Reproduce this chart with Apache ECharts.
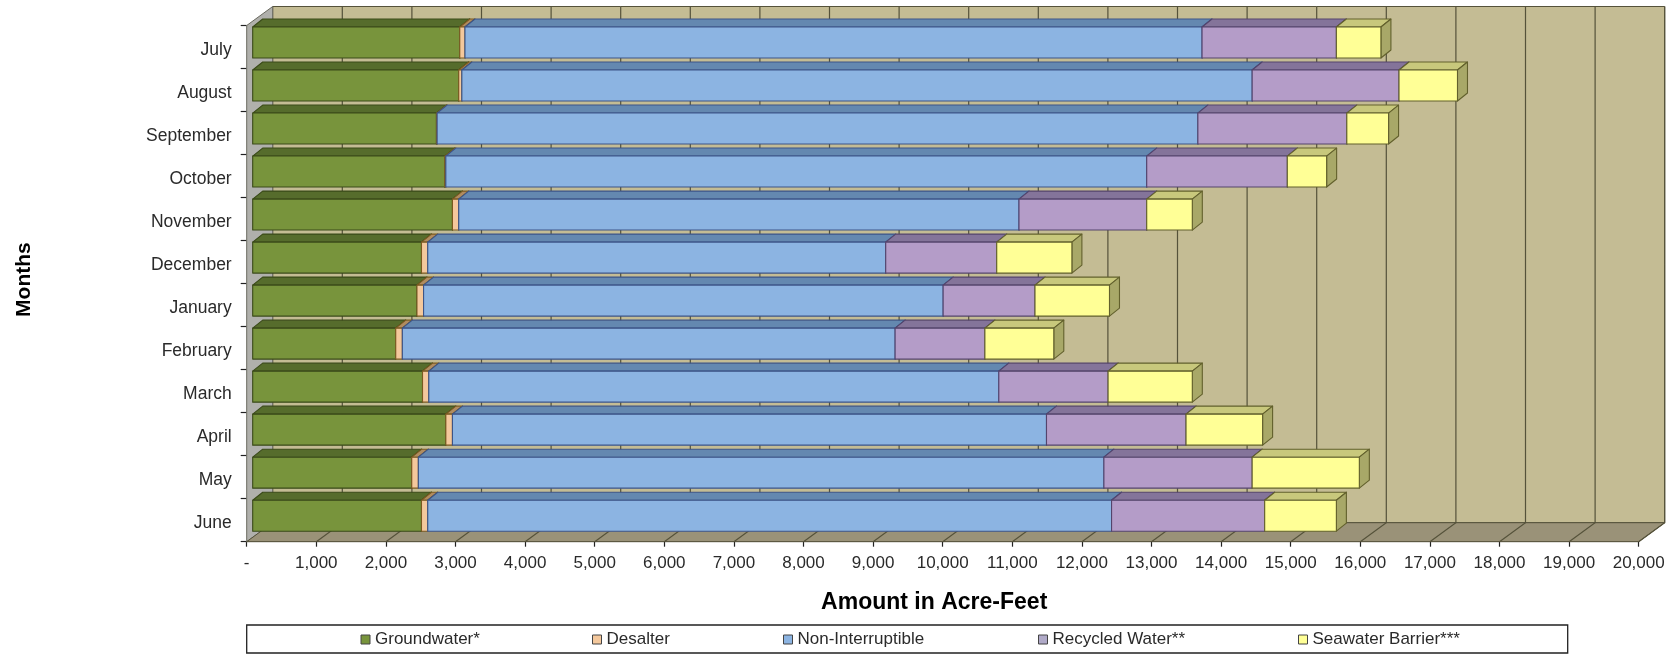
<!DOCTYPE html>
<html><head><meta charset="utf-8">
<style>html,body{margin:0;padding:0;background:#fff}#c{width:1670px;height:654px}</style>
<script src="https://cdn.jsdelivr.net/npm/echarts@6/dist/echarts.min.js"></script>
</head><body><div id="c"></div>
<script>
const months=['July','August','September','October','November','December','January','February','March','April','May','June'];
const groundwater=[2975,2960,2640,2760,2870,2425,2360,2055,2440,2775,2285,2425];
const desalter=[75,45,10,15,90,90,95,95,90,95,95,90];
const nonInterruptible=[10590,11355,10930,10070,8050,6580,7465,7080,8190,8535,9850,9825];
const recycled=[1930,2110,2140,2020,1835,1595,1320,1290,1570,2005,2130,2200];
const seawater=[640,840,600,565,655,1080,1070,990,1210,1100,1540,1030];
const xTicks=[];for(let t=0;t<=20000;t+=1000)xTicks.push(t);

const seriesDefs=[
 {name:'Groundwater*',values:groundwater,front:'#78943c',top:'#566c2c',side:'#4f6428',line:'#3a4a18',leg:'#78943c',lx:360.5},
 {name:'Desalter',values:desalter,front:'#f4c89c',top:'#b08c60',side:'#a88860',line:'#7a5a20',leg:'#f4c89c',lx:592},
 {name:'Non-Interruptible',values:nonInterruptible,front:'#8cb4e2',top:'#6488b0',side:'#6488b0',line:'#3c5488',leg:'#8cb4e2',lx:783},
 {name:'Recycled Water**',values:recycled,front:'#b49cc8',top:'#84749a',side:'#84749a',line:'#54446c',leg:'#b0aac8',lx:1038},
 {name:'Seawater Barrier***',values:seawater,front:'#ffff96',top:'#c8c87c',side:'#a8a868',line:'#62602c',leg:'#ffff96',lx:1298}
];
const WALL={dx:26,dy:19};
const BAR={ox:6,oy:-4.5,dx:10,dy:8,frac:0.72};
const font='"Liberation Sans",Arial,sans-serif';

function wallItem(params,api){
 const cs=params.coordSys,x0=cs.x,x1=cs.x+cs.width,y0=cs.y,y1=cs.y+cs.height,d=WALL;
 const stroke='#55523a';
 return {type:'group',children:[
  {type:'polygon',shape:{points:[[x0+d.dx,y0-d.dy],[x1+d.dx,y0-d.dy],[x1+d.dx,y1-d.dy],[x0+d.dx,y1-d.dy]]},style:{fill:'#c4bc94',stroke:stroke,lineWidth:1}},
  {type:'polygon',shape:{points:[[x0,y0],[x0+d.dx,y0-d.dy],[x0+d.dx,y1-d.dy],[x0,y1]]},style:{fill:'#b0b0ac',stroke:'#6a6a60',lineWidth:1}},
  {type:'polygon',shape:{points:[[x0,y1],[x0+d.dx,y1-d.dy],[x1+d.dx,y1-d.dy],[x1,y1]]},style:{fill:'#9a9278',stroke:stroke,lineWidth:1}}
 ]};
}
function gridItem(params,api){
 const c=api.coord([api.value(0),0]);
 const cs=params.coordSys,x=c[0],y0=cs.y,y1=cs.y+cs.height,d=WALL;
 return {type:'polyline',shape:{points:[[x,y1],[x+d.dx,y1-d.dy],[x+d.dx,y0-d.dy]]},style:{fill:'none',stroke:'#55523a',lineWidth:1.2}};
}
function barItem(def){return function(params,api){
 const start=api.value(0),end=api.value(1),cat=api.value(2);
 const a=api.coord([start,cat]),b=api.coord([end,cat]);
 const h=api.size([0,1])[1]*BAR.frac;
 const xa=a[0]+BAR.ox,xb=b[0]+BAR.ox,yc=a[1]+BAR.oy,t=yc-h/2,bt=yc+h/2,dx=BAR.dx,dy=BAR.dy;
 const st={stroke:def.line,lineWidth:1.1,lineJoin:'round'};
 return {type:'group',children:[
  {type:'polygon',shape:{points:[[xa,t],[xa+dx,t-dy],[xb+dx,t-dy],[xb,t]]},style:Object.assign({fill:def.top},st)},
  {type:'polygon',shape:{points:[[xb,t],[xb+dx,t-dy],[xb+dx,bt-dy],[xb,bt]]},style:Object.assign({fill:def.side},st)},
  {type:'rect',shape:{x:xa,y:t,width:xb-xa,height:bt-t},style:Object.assign({fill:def.front},st)}
 ]};
};}

const cum=months.map(()=>0);
const series=[
 {type:'custom',silent:true,z:1,data:[0],renderItem:wallItem,clip:false,encode:{x:0}},
 {type:'custom',silent:true,z:2,data:xTicks.slice(1).map(v=>[v]),renderItem:gridItem,clip:false,encode:{x:0}}
];
seriesDefs.forEach(def=>{
 const data=def.values.map((v,i)=>{const s=cum[i];cum[i]+=v;return [s,cum[i],months[i]];});
 series.push({name:def.name,type:'custom',silent:true,z:10,data:data,clip:false,
  renderItem:barItem(def),encode:{x:[0,1],y:2},itemStyle:{color:def.leg}});
});

const chart=echarts.init(document.getElementById('c'),null,{renderer:'canvas'});
chart.setOption({
 animation:false,backgroundColor:'#fff',
 textStyle:{fontFamily:font},
 grid:{left:246.7,right:31.3,top:25.5,height:516.2,containLabel:false,outerBoundsMode:'none'},
 xAxis:{type:'value',min:0,max:20000,interval:1000,
  name:'Amount in Acre-Feet',nameLocation:'middle',nameGap:49,
  nameTextStyle:{fontFamily:font,fontWeight:'bold',fontSize:23,color:'#000',padding:[0,17,0,0]},
  axisLine:{show:true,lineStyle:{color:'#333',width:1.2}},axisTick:{show:true,length:5,lineStyle:{color:'#222',width:1.2}},
  splitLine:{show:false},
  axisLabel:{fontFamily:font,fontSize:17,color:'#2a2a2a',margin:13,showMinLabel:true,showMaxLabel:true,
   formatter:v=>v===0?'-':v.toLocaleString('en-US')}},
 yAxis:{type:'category',data:months,inverse:true,boundaryGap:true,
  name:'Months',nameLocation:'middle',nameGap:212,nameRotate:90,
  nameTextStyle:{fontFamily:font,fontWeight:'bold',fontSize:21,color:'#000',padding:[0,0,0,8]},
  axisLine:{show:false},axisTick:{show:true,length:6,lineStyle:{color:'#222',width:1.2}},
  axisLabel:{fontFamily:font,fontSize:17.5,color:'#2a2a2a',margin:15,verticalAlign:'top',lineHeight:5.5}},
 legend:seriesDefs.map(d=>({show:true,left:d.lx,top:631,padding:0,data:[d.name],selectedMode:false,
  icon:'rect',itemWidth:9,itemHeight:9,itemStyle:{borderColor:'#444',borderWidth:1},
  textStyle:{fontFamily:font,fontSize:17,color:'#2a2a2a'}})),
 graphic:[{type:'rect',z:-1,silent:true,shape:{x:246.7,y:625,width:1321,height:28},style:{fill:'#fff',stroke:'#222',lineWidth:1.3}}],
 series:series
});
</script></body></html>
